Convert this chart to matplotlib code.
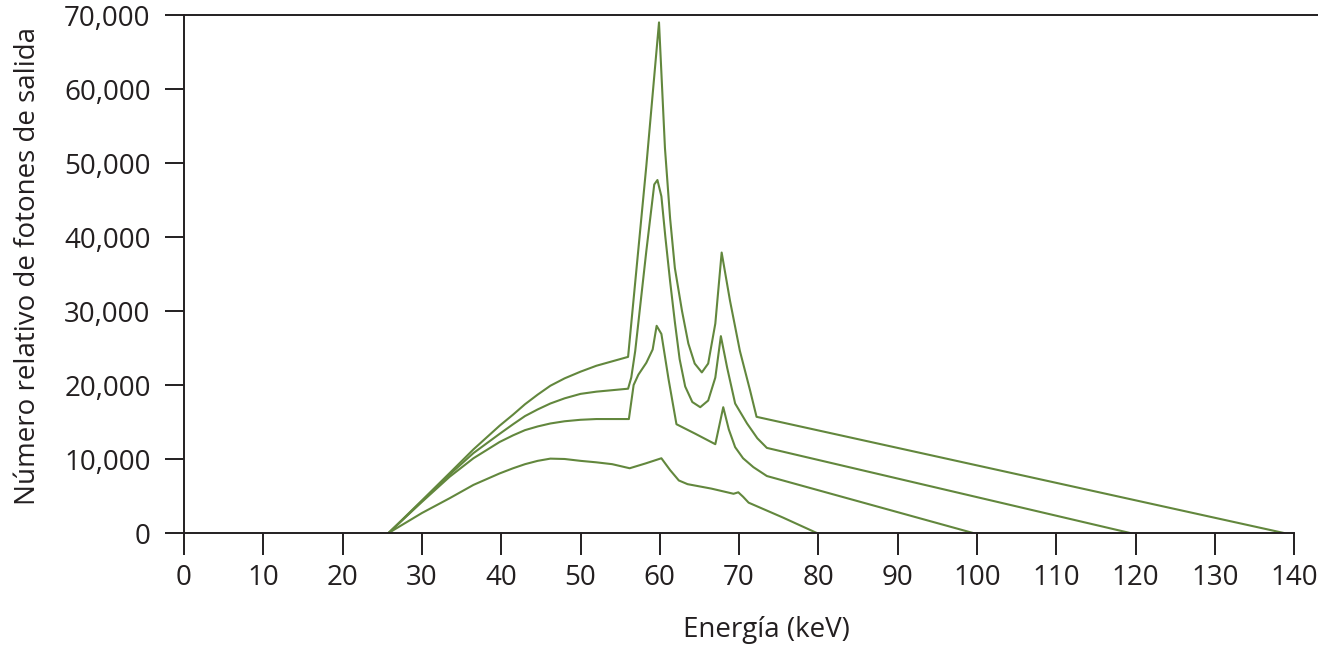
import matplotlib
matplotlib.use("Agg")
import matplotlib.pyplot as plt
from matplotlib.ticker import FuncFormatter

plt.rcParams['font.family'] = ['Open Sans', 'DejaVu Sans']

# espectros de rayos X, 80 / 100 / 120 / 140 kVp
e_80 = [25.8, 30, 33.5, 36.5, 39.8, 41.5, 43, 44.6, 46.2, 48, 50, 52, 54, 56.2, 58.2, 60.2,
        61.3, 62.4, 63.5, 66.5, 69.3, 69.9, 70.5, 71.2, 75.5, 79.8]
n_80 = [0, 2700, 4700, 6500, 8050, 8750, 9300, 9750, 10050, 10000, 9750, 9550, 9300, 8750,
        9400, 10100, 8500, 7100, 6600, 6000, 5300, 5500, 4900, 4100, 2100, 0]

e_100 = [25.8, 30, 33.5, 36.5, 39.8, 41.5, 43, 44.6, 46.2, 48, 50, 52, 54, 56.1, 56.7, 57.3,
         58.3, 59.1, 59.6, 60.2, 61.1, 62.1, 64.5, 67.0, 68.0, 68.7, 69.5, 70.5, 71.8, 73.5,
         99.5]
n_100 = [0, 4200, 7600, 10100, 12300, 13200, 13900, 14400, 14800, 15100, 15300, 15400, 15400,
         15400, 20000, 21400, 23000, 24800, 28000, 26900, 20800, 14700, 13400, 12000, 17000,
         14000, 11600, 10100, 8900, 7700, 0]

e_120 = [25.8, 30, 33.5, 36.5, 39.8, 41.5, 43, 44.6, 46.2, 48, 50, 52, 54, 56.0, 56.4, 56.9,
         57.5, 58.3, 59.3, 59.7, 60.2, 60.7, 61.3, 61.9, 62.5, 63.2, 64.1, 65.1, 66.1, 67.0,
         67.7, 68.5, 69.5, 71.0, 72.3, 73.5, 119.3]
n_120 = [0, 4300, 7900, 10800, 13400, 14700, 15800, 16700, 17500, 18200, 18800, 19100, 19300,
         19500, 21000, 24600, 30400, 38100, 47100, 47700, 45500, 40000, 34000, 28500, 23500,
         19800, 17700, 17000, 17900, 21000, 26600, 22300, 17500, 14800, 12800, 11500, 0]

e_140 = [25.8, 30, 33.5, 36.5, 39.8, 41.5, 43, 44.6, 46.2, 48, 50, 52, 54, 56.0, 58.3, 59.9,
         60.65, 61.3, 61.9, 62.8, 63.6, 64.4, 65.3, 66.1, 67.0, 67.8, 68.85, 70.1, 71.4, 72.2,
         138.7]
n_140 = [0, 4400, 8100, 11300, 14500, 16000, 17400, 18700, 19900, 20900, 21800, 22600, 23200,
         23800, 49600, 69000, 52000, 42500, 35800, 30000, 25600, 22900, 21700, 22900, 28300,
         37900, 31400, 24600, 19200, 15700, 0]

x_ticks = list(range(0, 141, 10))
y_ticks = list(range(0, 70001, 10000))

ink = '#231f20'
green = '#62873d'

fig = plt.figure(figsize=(13.18, 6.45), dpi=100)
ax = fig.add_axes([184 / 1318, 1 - 533 / 645, 1134 / 1318, 518 / 645])

for e, n in [(e_80, n_80), (e_100, n_100), (e_120, n_120), (e_140, n_140)]:
    ax.plot(e, n, color=green, lw=1.5, solid_joinstyle='round')

ax.set_xlim(0, 143.0)
ax.set_ylim(0, 70000)
ax.set_xticks(x_ticks)
ax.set_yticks(y_ticks)
ax.yaxis.set_major_formatter(FuncFormatter(lambda v, p: '{:,.0f}'.format(v)))

ax.spines['right'].set_visible(False)
ax.spines['bottom'].set_bounds(0, 140)
for s in ['left', 'bottom', 'top']:
    ax.spines[s].set_linewidth(1.4)
    ax.spines[s].set_color(ink)

ax.tick_params(axis='x', direction='out', length=16, width=1.4, color=ink,
               labelsize=20, labelcolor=ink, pad=6)
ax.tick_params(axis='y', direction='out', length=14, width=1.4, color=ink,
               labelsize=20, labelcolor=ink, pad=10)

ax.set_xlabel('Energía (keV)', fontsize=20, color=ink)
ax.xaxis.set_label_coords(0.514, -0.16)
ax.set_ylabel('Número relativo de fotones de salida', fontsize=20, color=ink)
ax.yaxis.set_label_coords(-0.125, 0.515)

fig.savefig('out.png', dpi=100)
